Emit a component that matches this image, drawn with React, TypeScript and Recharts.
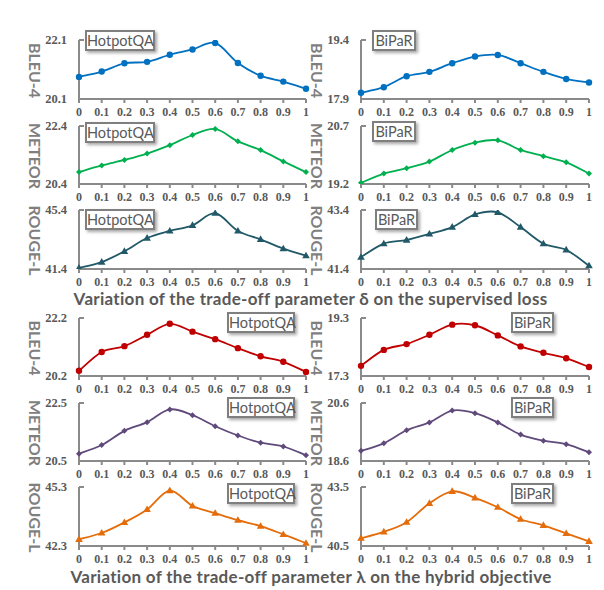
import { LineChart, Line, XAxis, YAxis } from 'recharts';

// trade-off parameter values on the x axis
const PARAMS = [0, 0.1, 0.2, 0.3, 0.4, 0.5, 0.6, 0.7, 0.8, 0.9, 1];

// delta: supervised loss
const BLEU_D_HOTPOT = [20.85, 21.03, 21.31, 21.36, 21.6, 21.78, 22.0, 21.32, 20.89, 20.69, 20.45];
const BLEU_D_BIPAR = [18.06, 18.2, 18.48, 18.59, 18.81, 18.98, 19.02, 18.81, 18.59, 18.41, 18.32];
const METEOR_D_HOTPOT = [20.81, 21.04, 21.23, 21.45, 21.74, 22.09, 22.3, 21.87, 21.57, 21.18, 20.81];
const METEOR_D_BIPAR = [19.23, 19.47, 19.61, 19.78, 20.08, 20.27, 20.33, 20.08, 19.92, 19.76, 19.47];
const ROUGE_D_HOTPOT = [41.47, 41.87, 42.6, 43.5, 43.98, 44.36, 45.18, 43.98, 43.41, 42.78, 42.3];
const ROUGE_D_BIPAR = [41.8, 42.26, 42.38, 42.59, 42.82, 43.25, 43.32, 42.82, 42.26, 42.05, 41.51];

// lambda: hybrid objective
const BLEU_L_HOTPOT = [20.38, 21.03, 21.23, 21.62, 22.0, 21.73, 21.47, 21.16, 20.88, 20.69, 20.34];
const BLEU_L_BIPAR = [17.65, 18.2, 18.4, 18.72, 19.07, 19.05, 18.7, 18.32, 18.1, 17.91, 17.61];
const METEOR_L_HOTPOT = [20.75, 21.05, 21.54, 21.84, 22.28, 22.08, 21.7, 21.38, 21.13, 21.0, 20.7];
const METEOR_L_BIPAR = [18.95, 19.21, 19.66, 19.93, 20.34, 20.25, 19.93, 19.51, 19.3, 19.18, 18.9];
const ROUGE_L_HOTPOT = [42.64, 42.96, 43.5, 44.16, 45.12, 44.34, 43.97, 43.61, 43.31, 42.89, 42.44];
const ROUGE_L_BIPAR = [40.9, 41.22, 41.71, 42.67, 43.28, 42.95, 42.47, 41.86, 41.55, 41.14, 40.74];

// y tick labels (min, max) per panel
const YT_D_HOTPOT = [[20.1, 22.1], [20.4, 22.4], [41.4, 45.4]];
const YT_D_BIPAR = [[17.9, 19.4], [19.2, 20.7], [41.4, 43.4]];
const YT_L_HOTPOT = [[20.2, 22.2], [20.5, 22.5], [42.3, 45.3]];
const YT_L_BIPAR = [[17.3, 19.3], [18.6, 20.6], [40.5, 43.5]];

const METRICS = ['BLEU-4', 'METEOR', 'ROUGE-L'];
const DATASETS = ['HotpotQA', 'BiPaR'];
const CAPTIONS = [
  'Variation of the trade-off parameter δ on the supervised loss',
  'Variation of the trade-off parameter λ on the hybrid objective',
];

const COLORS_D = ['#0070C0', '#00B050', '#215968'];
const COLORS_L = ['#C00000', '#604A7B', '#E46C0A'];
const MARKERS = ['circle', 'diamond', 'triangle'];

const AXIS = '#8a8a8a';
const TEXT = '#595959';
const SANS = 'Lato, "Open Sans", sans-serif';
const SERIF = '"Liberation Serif", "DejaVu Serif", serif';

// plot area rows (top, bottom) in page px
const ROWS = [
  [40, 99], [126, 184], [210, 269],
  [318, 376], [403, 461], [487, 546],
];
const COLS = [
  { left: 0, plotLeft: 79, plotRight: 306, labelX: 35 },
  { left: 302, plotLeft: 361, plotRight: 589, labelX: 317.5 },
];
const YW = 40;
const XH = 21;

// Excel-like smoothing (Catmull-Rom to Bezier)
function smoothCurve(context: any) {
  let pts: number[][] = [];
  return {
    areaStart() {},
    areaEnd() {},
    lineStart() { pts = []; },
    lineEnd() {
      if (!pts.length) return;
      context.moveTo(pts[0][0], pts[0][1]);
      for (let i = 0; i < pts.length - 1; i++) {
        const p0 = pts[Math.max(i - 1, 0)];
        const p1 = pts[i];
        const p2 = pts[i + 1];
        const p3 = pts[Math.min(i + 2, pts.length - 1)];
        context.bezierCurveTo(
          p1[0] + (p2[0] - p0[0]) / 6, p1[1] + (p2[1] - p0[1]) / 6,
          p2[0] - (p3[0] - p1[0]) / 6, p2[1] - (p3[1] - p1[1]) / 6,
          p2[0], p2[1],
        );
      }
    },
    point(x: number, y: number) { pts.push([+x, +y]); },
  };
}

function makeDot(shape: string, color: string) {
  return (props: any) => {
    const { cx, cy, index } = props;
    if (shape === 'circle') return <circle key={index} cx={cx} cy={cy} r={3.2} fill={color} />;
    if (shape === 'diamond')
      return <path key={index} d={`M${cx},${cy - 3}L${cx + 3},${cy}L${cx},${cy + 3}L${cx - 3},${cy}Z`} fill={color} />;
    return <path key={index} d={`M${cx},${cy - 4}L${cx + 3.8},${cy + 2.6}L${cx - 3.8},${cy + 2.6}Z`} fill={color} />;
  };
}

function Panel({ values, ticks, color, marker, col, row }: any) {
  const c = COLS[col];
  const [top, bottom] = ROWS[row];
  const data = PARAMS.map((p, i) => ({ p, v: values[i] }));
  const width = c.plotRight - c.left + 10;
  const height = bottom - top + 8 + XH;
  return (
    <div style={{ position: 'absolute', left: c.left, top: top - 8 }}>
      <LineChart
        width={width}
        height={height}
        data={data}
        margin={{ top: 8, right: 10, bottom: 0, left: c.plotLeft - c.left - YW }}
      >
        <XAxis
          dataKey="p"
          type="number"
          domain={[0, 1]}
          ticks={PARAMS}
          interval={0}
          height={XH}
          tickFormatter={(v: number) => String(v)}
          stroke={AXIS}
          strokeWidth={2}
          tickSize={4}
          tickMargin={4}
          tick={{ fill: TEXT, fontSize: 12, fontWeight: 700, fontFamily: SERIF }}
        />
        <YAxis
          type="number"
          domain={ticks}
          ticks={ticks}
          allowDataOverflow
          width={YW}
          tickFormatter={(v: number) => v.toFixed(1)}
          stroke={AXIS}
          strokeWidth={2}
          tickSize={-5}
          tickMargin={17}
          tick={{ fill: TEXT, fontSize: 12.5, fontWeight: 700, fontFamily: SERIF }}
        />
        <Line
          dataKey="v"
          type={smoothCurve as any}
          stroke={color}
          strokeWidth={1.8}
          dot={makeDot(marker, color)}
          activeDot={false}
          isAnimationActive={false}
        />
      </LineChart>
    </div>
  );
}

// legend box positions [x, y, w]
const BOXES = [
  [[85, 30, 70], [372, 30, 44]],
  [[85, 122, 70], [372, 121, 44]],
  [[85, 209, 70], [375, 209, 43]],
  [[227, 312, 68], [511, 312, 43]],
  [[227, 397, 68], [511, 397, 43]],
  [[227, 483, 68], [511, 483, 43]],
];

function Box({ x, y, w, text }: any) {
  return (
    <div
      style={{
        position: 'absolute', left: x, top: y, width: w, height: 21, boxSizing: 'border-box',
        border: '2px solid #7f7f7f', background: '#fff', boxShadow: '2px 2px 3px rgba(0,0,0,0.35)',
        fontFamily: SANS, fontSize: 14.5, color: TEXT, lineHeight: '17px', textAlign: 'center',
      }}
    >
      {text}
    </div>
  );
}

export default function App() {
  const groups = [
    { colors: COLORS_D, series: [[BLEU_D_HOTPOT, BLEU_D_BIPAR], [METEOR_D_HOTPOT, METEOR_D_BIPAR], [ROUGE_D_HOTPOT, ROUGE_D_BIPAR]], ticks: [YT_D_HOTPOT, YT_D_BIPAR] },
    { colors: COLORS_L, series: [[BLEU_L_HOTPOT, BLEU_L_BIPAR], [METEOR_L_HOTPOT, METEOR_L_BIPAR], [ROUGE_L_HOTPOT, ROUGE_L_BIPAR]], ticks: [YT_L_HOTPOT, YT_L_BIPAR] },
  ];
  return (
    <div style={{ position: 'absolute', left: 0, top: 0, width: 604, height: 590, background: '#fff', overflow: 'hidden' }}>
      {groups.map((g, gi) =>
        METRICS.map((m, mi) =>
          [0, 1].map((col) => (
            <Panel
              key={`${gi}-${mi}-${col}`}
              values={g.series[mi][col]}
              ticks={g.ticks[col][mi]}
              color={g.colors[mi]}
              marker={MARKERS[mi]}
              col={col}
              row={gi * 3 + mi}
            />
          )),
        ),
      )}
      <svg width={604} height={590} style={{ position: 'absolute', left: 0, top: 0, pointerEvents: 'none' }}>
        {ROWS.map((r, ri) =>
          COLS.map((c, ci) => {
            const cy = (r[0] + r[1]) / 2 + 1;
            return (
              <text
                key={`${ri}-${ci}`}
                x={c.labelX}
                y={cy}
                transform={`rotate(90, ${c.labelX}, ${cy})`}
                textAnchor="middle"
                dominantBaseline="central"
                fill="#7f7f7f"
                fontFamily={SANS}
                fontWeight={700}
                fontSize={16}
              >
                {METRICS[ri % 3]}
              </text>
            );
          }),
        )}
        <text x={310.5} y={305} textAnchor="middle" fill={TEXT} fontFamily={SANS} fontWeight={700} fontSize={17} letterSpacing={0.3}>
          {CAPTIONS[0]}
        </text>
        <text x={311} y={583} textAnchor="middle" fill={TEXT} fontFamily={SANS} fontWeight={700} fontSize={17} letterSpacing={0.3}>
          {CAPTIONS[1]}
        </text>
      </svg>
      {BOXES.map((row, ri) =>
        row.map((b, ci) => <Box key={`${ri}-${ci}`} x={b[0]} y={b[1]} w={b[2]} text={DATASETS[ci]} />),
      )}
    </div>
  );
}
